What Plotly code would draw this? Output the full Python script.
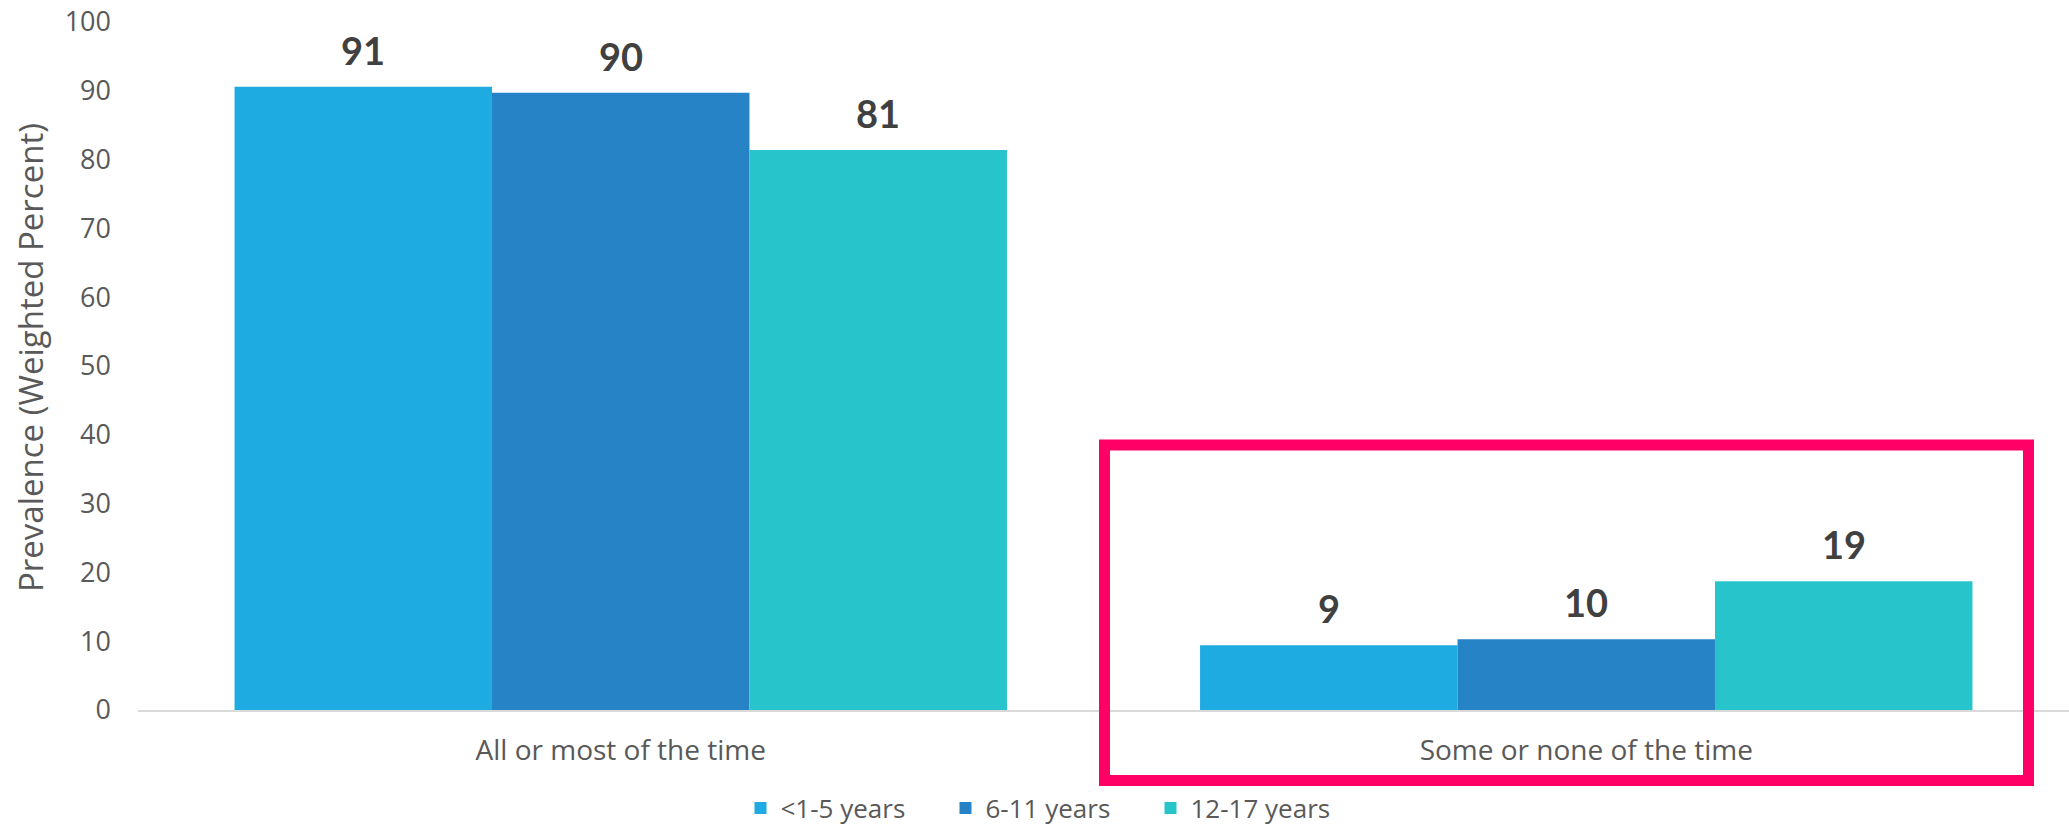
import plotly.graph_objects as go

# ---- data ----
categories = ["All or most of the time", "Some or none of the time"]
series_names = ["<1-5 years", "6-11 years", "12-17 years"]
values_1_5 = [90.6, 9.4]
values_6_11 = [89.7, 10.3]
values_12_17 = [81.4, 18.7]
y_tick_values = [0, 10, 20, 30, 40, 50, 60, 70, 80, 90, 100]
y_axis_title = "Prevalence (Weighted Percent)"

series_values = [values_1_5, values_6_11, values_12_17]
colors = ["#1EABE2", "#2683C6", "#28C4CC"]

W, H = 2069, 829
ML, MR, MT, MB = 138, 0, 22, 119
BARGAP = 0.2
plot_w = W - ML - MR
plot_h = H - MT - MB
bar_w = plot_w / len(categories) * (1 - BARGAP) / len(series_names)

fig = go.Figure()
for name, vals, col in zip(series_names, series_values, colors):
    fig.add_trace(go.Bar(name=name, x=categories, y=vals, marker=dict(color=col, line=dict(width=0))))

annotations = []
for i, vals in enumerate(series_values):
    for cat, v in zip(categories, vals):
        annotations.append(dict(
            x=cat, y=v, xref="x", yref="y", text=f"<b>{round(v)}</b>",
            showarrow=False, xanchor="center", yanchor="middle",
            xshift=(i - 1) * bar_w, yshift=37,
            font=dict(family="Lato", size=38, color="#404040")))

annotations.append(dict(
    x=(30 - ML) / plot_w, y=(H - MB - 358) / plot_h, xref="paper", yref="paper",
    text=y_axis_title, textangle=-90, showarrow=False, xanchor="center", yanchor="middle",
    font=dict(family="Open Sans", size=33, color="#595959")))

fig.update_layout(
    width=W, height=H,
    margin=dict(l=ML, r=MR, t=MT, b=MB, pad=0, autoexpand=False),
    paper_bgcolor="white", plot_bgcolor="white",
    barmode="group", bargap=BARGAP, bargroupgap=0,
    font=dict(family="Open Sans", color="#595959"),
    xaxis=dict(showline=True, linecolor="#D9D9D9", linewidth=2, showgrid=False,
               ticks="", tickfont=dict(family="Open Sans", size=28, color="#595959"),
               ticklabelstandoff=14, zeroline=False, automargin=False),
    yaxis=dict(range=[0, 100], tickvals=y_tick_values, showgrid=False, showline=False,
               zeroline=False, ticks="", ticklabelstandoff=26, automargin=False,
               tickfont=dict(family="Open Sans", size=27, color="#595959")),
    legend=dict(orientation="h", x=(1048 - ML) / plot_w, xanchor="center",
                y=(H - MB - 808) / plot_h, yanchor="middle",
                font=dict(family="Open Sans", size=26, color="#595959"),
                entrywidth=160, entrywidthmode="pixels",
                traceorder="normal", bgcolor="rgba(0,0,0,0)"),
    annotations=annotations,
    shapes=[dict(type="rect", xref="paper", yref="paper",
                 x0=(1104.5 - ML) / plot_w, x1=(2028.5 - ML) / plot_w,
                 y0=(H - MB - 780.5) / plot_h, y1=(H - MB - 445) / plot_h,
                 line=dict(color="#FF0066", width=11), fillcolor="rgba(0,0,0,0)",
                 layer="above")],
    showlegend=True,
)

fig.write_html("out.html")
